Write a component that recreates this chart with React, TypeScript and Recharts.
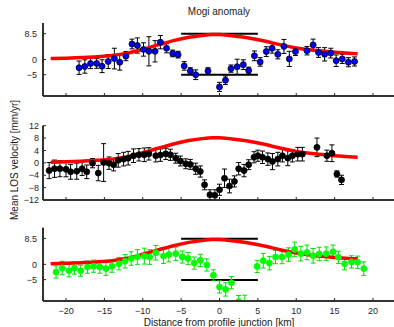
import React from 'react';
import { ComposedChart, Scatter, Line, XAxis, YAxis, ErrorBar, ReferenceLine } from 'recharts';

const FONT = '"Liberation Sans", Arial, Helvetica, sans-serif';
const AXIS = '#262626';
const TEXT = '#1a1a1a';

const xDomain = [-23, 23];
const yDomain = [-12, 12];
const xTicks = [-20, -15, -10, -5, 0, 5, 10, 15, 20];
const sparseYTicks = [-5, 0, 8.5];
const denseYTicks = [-12, -8, -4, 0, 4, 8, 12];

// black box marking the anomaly window
const boxX = [-5, 5];
const boxLevels = [8.5, -5];

// Mogi model curve (same in all panels)
const modelX = [-22, -20, -18, -16, -14, -12, -10, -8, -6, -4, -2, -1, 0, 1, 2, 4, 6, 8, 10, 12, 14, 16, 18];
const modelY = [0.3, 0.45, 0.65, 0.9, 1.3, 2.1, 3.4, 4.8, 6.2, 7.3, 8.0, 8.2, 8.2, 8.0, 7.7, 7.0, 6.0, 4.8, 3.8, 3.1, 2.6, 2.2, 1.9];

// top panel (blue)
const blueX = [-18.3, -17.55, -16.8, -16.0, -15.3, -14.5, -13.7, -13.0, -12.2, -11.4, -10.7, -9.9, -9.2, -8.4, -7.7, -6.9, -6.1, -5.4, -4.6, -3.8, -3.1, -1.5, 0, 0.78, 1.5, 2.3, 3.1, 3.8, 4.55, 5.3, 6.1, 6.85, 7.6, 8.4, 9.1, 9.9, 11.4, 12.2, 12.9, 13.7, 14.5, 15.2, 16.0, 16.8, 17.6];
const blueY = [-2.7, -2.3, -1.3, -1.3, -2.2, -0.65, 0.3, -0.9, 1.1, 5.1, 4.6, 3.3, 2.7, 2.7, 5.7, 3.7, 2.0, 1.6, -2.1, -3.8, -5.0, -3.8, -9.0, -6.8, -3.0, -2.4, -1.7, -3.6, 1.2, -0.8, 2.6, 3.7, 1.7, 4.3, 0.2, 2.6, 2.9, 4.8, 2.3, 1.7, 2.1, -0.4, 0.2, -0.9, -0.65];
const blueErr = [2.2, 2.2, 1.7, 1.6, 2.1, 2.3, 3.4, 2.6, 1.5, 1.6, 2.5, 2.2, 4.8, 3.5, 2.2, 1.5, 1.1, 1.1, 1.4, 1.1, 1.6, 1.1, 1.5, 1.4, 1.2, 2.5, 1.6, 1.1, 1.6, 1.4, 1.6, 1.6, 1.5, 2.3, 2.5, 1.3, 1.4, 1.9, 1.6, 2.2, 1.6, 1.9, 1.5, 1.5, 1.5];

// middle panel (black)
const blackX = [-22.2, -21.5, -20.8, -20.0, -19.4, -18.6, -17.9, -17.3, -16.55, -15.8, -15.1, -14.4, -13.8, -13.2, -12.5, -11.9, -11.2, -10.5, -9.8, -9.2, -8.3, -7.7, -7.0, -6.4, -5.7, -5.1, -4.4, -3.8, -3.1, -2.5, -1.95, -1.25, -0.6, 0.0, 0.65, 1.3, 1.95, 2.5, 3.2, 3.8, 4.5, 5.0, 5.6, 6.3, 6.9, 7.6, 8.2, 8.9, 9.5, 10.2, 10.8, 12.7, 14.0, 14.65, 15.3, 15.9];
const blackY = [-2.4, -1.8, -1.8, -2.0, -2.8, -2.6, -1.8, -2.8, 0.0, -3.2, 0.2, 0.0, -0.5, 0.9, 1.3, 1.6, 2.4, 2.7, 2.7, 3.0, 2.4, 2.6, 3.0, 2.7, 1.6, 0.7, -0.2, -0.4, -1.8, -2.7, -7.0, -10.2, -10.4, -8.6, -4.9, -7.4, -5.9, -1.8, -2.4, -0.5, 1.9, 2.4, 1.9, 1.3, 0.5, 1.3, 2.4, 1.6, 2.4, 2.9, 2.9, 5.1, 2.4, 3.2, -3.5, -5.4];
const blackErr = [2.6, 2.8, 2.6, 2.4, 2.4, 2.6, 2.2, 2.2, 1.5, 2.5, 6.1, 2.0, 2.0, 2.2, 2.2, 2.2, 2.2, 2.0, 2.2, 2.0, 2.0, 2.0, 1.8, 1.8, 1.6, 1.6, 1.6, 1.6, 1.8, 1.8, 1.6, 1.6, 1.8, 1.8, 3.0, 2.2, 1.8, 2.0, 2.0, 1.6, 1.8, 1.8, 2.0, 2.0, 2.6, 2.2, 2.0, 2.4, 2.0, 2.2, 2.2, 3.0, 1.8, 2.7, 1.0, 1.5];

// bottom panel (green)
const greenX = [-21.3, -20.5, -19.6, -18.9, -18.1, -17.2, -16.4, -15.6, -14.8, -14.0, -13.1, -12.3, -11.5, -10.7, -9.8, -9.1, -8.3, -7.3, -6.6, -5.7, -4.85, -4.1, -3.3, -2.5, -1.65, -0.8, 0.0, 0.8, 1.56, 2.5, 3.3, 4.9, 5.7, 6.5, 7.3, 8.15, 9.0, 9.8, 10.6, 11.4, 12.2, 13.0, 13.9, 14.8, 15.5, 16.3, 17.2, 18.0, 18.8];
const greenY = [-2.4, -1.1, -2.0, -1.1, -2.0, -0.8, -0.5, -0.8, -1.3, -0.5, 0.3, 1.1, 2.0, 2.5, 2.8, 2.5, 3.9, 2.8, 3.3, 3.6, 2.5, 2.0, 0.5, 1.4, -0.1, -3.5, -7.3, -8.1, -5.9, -12.1, -13.5, -0.6, 1.3, 0.5, 2.5, 2.5, 3.3, 5.0, 3.6, 4.0, 2.9, 3.5, 3.6, 4.2, 2.4, 0.3, 0.9, 0.8, -1.3];
const greenErr = [2.0, 2.2, 2.0, 2.0, 1.8, 2.0, 2.0, 2.0, 2.2, 2.0, 2.0, 2.2, 2.2, 2.4, 2.6, 2.4, 2.4, 2.4, 2.4, 2.2, 2.0, 2.0, 2.0, 2.0, 2.0, 1.8, 2.0, 2.2, 2.0, 2.0, 3.5, 2.0, 2.4, 2.2, 2.2, 2.2, 2.2, 2.4, 2.4, 2.4, 2.4, 2.2, 2.2, 2.2, 2.0, 2.0, 2.0, 2.0, 2.2];

const zip = (xs: number[], ys: number[], es?: number[]) =>
  xs.map((x, i) => ({ x, y: ys[i], err: es ? es[i] : 0 }));

const model = zip(modelX, modelY);

const fmt = (v: number) => (v < 0 ? `\u2212${Math.abs(v)}` : `${v}`);
const blank = () => '';

interface PanelProps {
  top: number;
  plotTop: number;
  plotHeight: number;
  points: { x: number; y: number; err: number }[];
  fill: string;
  edge: string;
  barColor: string;
  yTicks: number[];
  yGap: number;
  showXLabels?: boolean;
  showBox?: boolean;
}

const PLOT_LEFT = 43;
const CHART_W = 396;
const X_AXIS_H = 20;

const Panel: React.FC<PanelProps> = ({
  top, plotTop, plotHeight, points, fill, edge, barColor, yTicks, yGap, showXLabels, showBox,
}) => {
  const plotWidth = CHART_W - PLOT_LEFT;
  const axisChartH = plotTop + plotHeight + X_AXIS_H;
  return (
    <div style={{ position: 'absolute', left: 0, top, width: CHART_W, height: axisChartH }}>
      {/* data, clipped to the plot box */}
      <div
        style={{
          position: 'absolute',
          left: PLOT_LEFT,
          top: plotTop,
          width: plotWidth,
          height: plotHeight,
          overflow: 'hidden',
        }}
      >
        <ComposedChart width={plotWidth} height={plotHeight} margin={{ top: 0, right: 0, bottom: 0, left: 0 }}>
          <XAxis type="number" dataKey="x" domain={xDomain} allowDataOverflow hide />
          <YAxis type="number" dataKey="y" domain={yDomain} allowDataOverflow hide />
          {showBox &&
            boxLevels.map((lvl) => (
              <ReferenceLine
                key={lvl}
                segment={[{ x: boxX[0], y: lvl }, { x: boxX[1], y: lvl }]}
                stroke="#000"
                strokeWidth={2}
              />
            ))}
          <Scatter
            data={points}
            isAnimationActive={false}
            shape={(p: any) => <circle cx={p.cx} cy={p.cy} r={3} fill={fill} stroke={edge} strokeWidth={0.8} />}
          >
            <ErrorBar dataKey="err" direction="y" width={2.5} stroke={barColor} strokeWidth={1} />
          </Scatter>
          <Line
            data={model}
            dataKey="y"
            type="monotone"
            stroke="#ff0000"
            strokeWidth={3.5}
            dot={false}
            activeDot={false}
            isAnimationActive={false}
          />
        </ComposedChart>
      </div>
      {/* axes with inward ticks, drawn over the data box */}
      <div style={{ position: 'absolute', left: 0, top: 0, pointerEvents: 'none' }}>
        <ComposedChart
          width={CHART_W}
          height={axisChartH}
          margin={{ top: plotTop, right: 0, bottom: 0, left: 0 }}
          style={{ fontFamily: FONT, fontSize: 9 }}
        >
          <XAxis
            type="number"
            dataKey="x"
            domain={xDomain}
            ticks={xTicks}
            interval={0}
            allowDataOverflow
            height={X_AXIS_H}
            tickSize={-3}
            tickMargin={10}
            stroke={AXIS}
            axisLine={{ stroke: AXIS, strokeWidth: 1.5 }}
            tickLine={{ stroke: AXIS, strokeWidth: 1 }}
            tickFormatter={showXLabels ? fmt : blank}
          />
          <YAxis
            type="number"
            dataKey="y"
            domain={yDomain}
            ticks={yTicks}
            interval={0}
            allowDataOverflow
            width={PLOT_LEFT}
            tickSize={-3}
            tickMargin={yGap + 3}
            stroke={AXIS}
            axisLine={{ stroke: AXIS, strokeWidth: 1.5 }}
            tickLine={{ stroke: AXIS, strokeWidth: 1 }}
            tickFormatter={fmt}
          />
          <ReferenceLine y={yDomain[0]} stroke={AXIS} strokeWidth={1.5} ifOverflow="visible" />
          <ReferenceLine x={xDomain[0]} stroke={AXIS} strokeWidth={1.5} ifOverflow="visible" />
          <Scatter data={points} isAnimationActive={false} shape={() => <g />} />
        </ComposedChart>
      </div>
    </div>
  );
};

export default function App() {
  return (
    <div
      style={{
        position: 'absolute',
        left: 0,
        top: 0,
        width: 394,
        height: 327,
        overflow: 'hidden',
        background: '#fff',
      }}
    >
      <Panel
        top={0}
        plotTop={23}
        plotHeight={73}
        points={zip(blueX, blueY, blueErr)}
        fill="#0000ff"
        edge="#000"
        barColor="#000"
        yTicks={sparseYTicks}
        yGap={6}
        showBox
      />
      <Panel
        top={100}
        plotTop={25.7}
        plotHeight={74.3}
        points={zip(blackX, blackY, blackErr)}
        fill="#000"
        edge="#000"
        barColor="#000"
        yTicks={denseYTicks}
        yGap={4}
      />
      <Panel
        top={204}
        plotTop={23.7}
        plotHeight={73.3}
        points={zip(greenX, greenY, greenErr)}
        fill="#00ff00"
        edge="#00ff00"
        barColor="#00e000"
        yTicks={sparseYTicks}
        yGap={6}
        showXLabels
        showBox
      />
      <svg
        width={394}
        height={327}
        style={{ position: 'absolute', left: 0, top: 0, pointerEvents: 'none' }}
      >
        <text x={219} y={15} textAnchor="middle" fontSize={10} fontFamily={FONT} fill={TEXT}>
          Mogi anomaly
        </text>
        <text x={219} y={326} textAnchor="middle" fontSize={10} fontFamily={FONT} fill={TEXT}>
          Distance from profile junction [km]
        </text>
        <text
          transform="translate(17.5,160) rotate(-90)"
          textAnchor="middle"
          fontSize={10}
          fontFamily={FONT}
          fill={TEXT}
        >
          Mean LOS velocity [mm/yr]
        </text>
      </svg>
    </div>
  );
}
